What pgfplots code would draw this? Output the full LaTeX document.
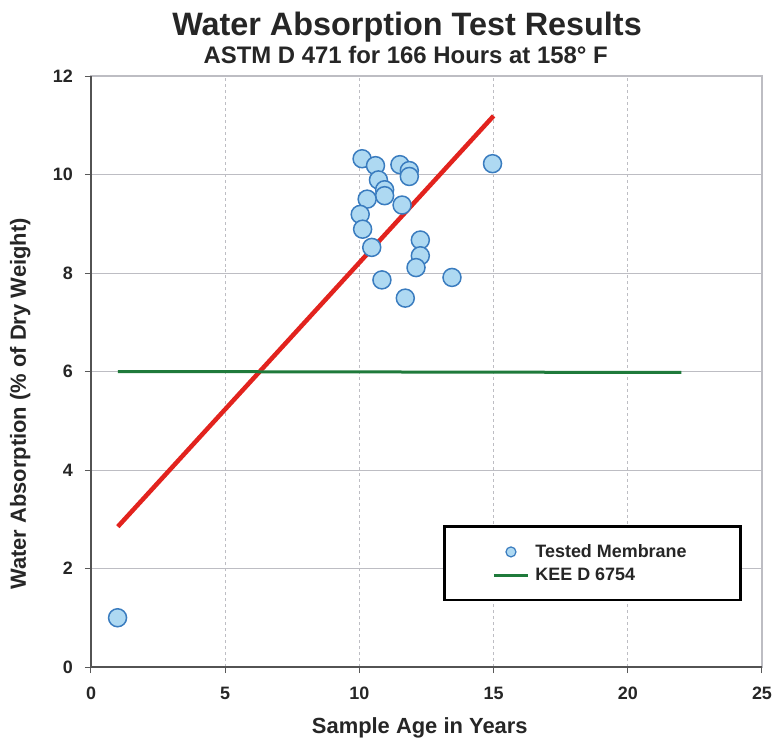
\documentclass[border=0pt]{standalone}
\usepackage{pgfplots}
\pgfplotsset{compat=1.18}
\usepackage{fontspec}
\setmainfont{Liberation Sans}
\definecolor{txt}{HTML}{262626}
\definecolor{mfill}{HTML}{AED9F2}
\definecolor{medge}{HTML}{3A7CBF}
\definecolor{redl}{HTML}{E2231E}
\definecolor{greenl}{HTML}{1F7A3B}
\definecolor{gridc}{HTML}{BDBDC3}
\begin{document}
\begin{tikzpicture}
\begin{axis}[
  scale only axis,
  width=671bp, height=591bp,
  xmin=0, xmax=25, ymin=0, ymax=12,
  xtick={0,5,10,15,20,25},
  ytick={0,2,4,6,8,10,12},
  xmajorgrids, ymajorgrids,
  x grid style={gridc, dashed, line width=0.8bp},
  y grid style={gridc, line width=1bp},
  axis line style={gridc, line width=1.2bp},
  xtick pos=bottom, ytick pos=left,
  tick align=outside,
  major tick length=6bp,
  tick style={gray!70!black, line width=1bp},
  /pgf/number format/assume math mode=true,
  ticklabel style={font=\fontsize{18}{20}\selectfont\bfseries, text=txt},
  yticklabel style={inner sep=0pt, xshift=-12bp},
  xticklabel style={inner sep=0pt, yshift=-14bp},
  xlabel={Sample Age in Years},
  ylabel={Water Absorption (\% of Dry Weight)},
  label style={font=\fontsize{22}{24}\selectfont\bfseries, text=txt},
  xlabel style={at={(rel axis cs:0.49,-0.112)}, anchor=base},
  ylabel style={at={(rel axis cs:-0.097,0.445)}, anchor=base},
  clip=false,
  legend style={at={(rel axis cs:0.970,0.111)}, anchor=south east,
    draw=black, line width=2.5bp, fill=white,
    inner xsep=48bp, inner ysep=16bp,
    font=\fontsize{18}{20}\selectfont\bfseries, text=txt,
    row sep=5bp,
    nodes={inner xsep=6bp}},
  legend cell align=left,
  legend image code/.code={\draw[mark repeat=2,mark phase=2,#1] plot coordinates {(0bp,0bp) (17bp,0bp) (34bp,0bp)};},
]
% data points
\addplot[only marks, mark=*, mark size=9bp,
  mark options={fill=mfill, draw=medge, line width=1.5bp}, forget plot]
coordinates {
(10.10,10.32) (10.60,10.18) (11.51,10.20) (11.86,10.08) (11.86,9.96)
(10.71,9.89) (10.94,9.69) (10.94,9.57) (10.29,9.50) (11.59,9.38)
(10.03,9.19) (10.12,8.89) (10.46,8.52) (12.27,8.67) (12.27,8.35)
(12.11,8.11) (10.84,7.86) (13.45,7.91) (11.71,7.49) (14.96,10.22)
(0.99,1.00)
};
\addlegendimage{only marks, mark=*, mark size=5bp, mark options={fill=mfill, draw=medge, line width=1.2bp}}
\addlegendentry{Tested Membrane}
% trend line
\addplot[redl, line width=4.5bp, forget plot] coordinates {(1,2.85) (15.0,11.19)};
% KEE line
\addplot[greenl, line width=3bp] coordinates {(1,6.0) (22,5.98)};
\addlegendentry{KEE D 6754}
% darker left/bottom axis lines
\draw[gray!65!black, line width=1.3bp] (rel axis cs:0,1) -- (rel axis cs:0,0) -- (rel axis cs:1,0);
% titles
\node[anchor=base, font=\fontsize{32.5}{34}\selectfont\bfseries, text=txt] at (rel axis cs:0.471,1.0690) {Water Absorption Test Results};
\node[anchor=base, font=\fontsize{24}{26}\selectfont\bfseries, text=txt] at (rel axis cs:0.469,1.0215) {ASTM D 471 for 166 Hours at 158° F};
\coordinate (bbsw) at (rel axis cs:-0.1356,-0.1241);
\coordinate (bbne) at (rel axis cs:1.0164,1.1286);
\end{axis}
\pgfresetboundingbox
\path[use as bounding box] (bbsw) rectangle (bbne);
\end{tikzpicture}
\end{document}
